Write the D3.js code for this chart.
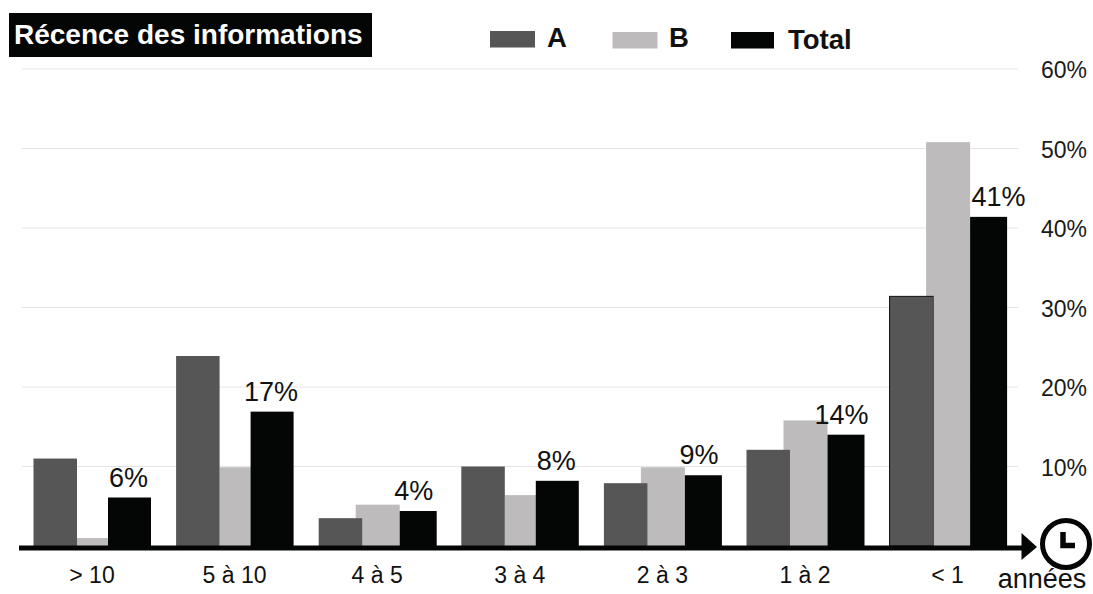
<!DOCTYPE html>
<html><head><meta charset="utf-8">
<script src="https://cdn.jsdelivr.net/npm/d3@7"></script>
<style>html,body{margin:0;background:#fff}svg{display:block}text{font-family:"Liberation Sans",Arial,sans-serif}</style>
</head><body><div id="c"></div>
<script>
const categories = ["> 10","5 à 10","4 à 5","3 à 4","2 à 3","1 à 2","< 1"];
const seriesA = [11,23.9,3.5,10,7.9,12.1,31.4];
const seriesB = [1,9.9,5.2,6.4,9.9,15.8,50.8];
const seriesTotal = [6.1,16.9,4.4,8.2,8.9,14,41.4];
const totalLabels = ["6%","17%","4%","8%","9%","14%","41%"];
const yTicks = [10,20,30,40,50,60];
const legendItems = ["A","B","Total"];
const colors = {A:"#565656",B:"#bdbbbc",Total:"#040605"};

const W=1093,H=594;
const svg=d3.select("#c").append("svg").attr("width",W).attr("height",H);
const y=d3.scaleLinear().domain([0,60]).range([546,69]);
const x=d3.scaleBand().domain(categories).range([33.5,1031.7]).paddingInner(0).paddingOuter(0).align(0);
// Two overlap patterns occur in the groups of the reference
const overlapAonB=[false,false,true,false,true,true,true];

svg.append("g").selectAll("line").data(yTicks).join("line")
 .attr("x1",22).attr("x2",1018).attr("y1",d=>y(d)).attr("y2",d=>y(d))
 .attr("stroke","#e4e4e4").attr("stroke-width",1);

svg.append("g").selectAll("text").data(yTicks).join("text")
 .attr("x",1087).attr("y",d=>y(d)+9).attr("text-anchor","end")
 .attr("font-size",23).attr("fill","#1a1a1a").text(d=>d+"%");

const g=svg.append("g").selectAll("g").data(categories).join("g")
 .attr("transform",c=>`translate(${x(c)},0)`);

function rect(sel,key,vals,xf,wf){
 sel.append("rect").attr("x",(c,i)=>xf(i)).attr("width",(c,i)=>wf(i))
  .attr("y",(c,i)=>y(vals[i])).attr("height",(c,i)=>y(0)-y(vals[i]))
  .attr("fill",colors[key]);
}
rect(g,"B",seriesB,i=>overlapAonB[i]?37:43.5,i=>overlapAonB[i]?44:37.5);
rect(g,"A",seriesA,()=>0,()=>43.5);
rect(g,"Total",seriesTotal,i=>overlapAonB[i]?81:74.5,i=>overlapAonB[i]?37:43);
g.filter((c,i)=>i===6).append("rect").attr("x",0.5).attr("width",43.5)
 .attr("y",y(seriesA[6])).attr("height",y(0)-y(seriesA[6]))
 .attr("fill","none").attr("stroke","#111").attr("stroke-width",1);

g.append("text").attr("x",(c,i)=>i===6?109.5:95)
 .attr("y",(c,i)=>y(seriesTotal[i])-11).attr("text-anchor","middle")
 .attr("font-size",27).attr("fill","#111").text((c,i)=>totalLabels[i]);

g.append("text").attr("x",58.5).attr("y",582.5).attr("text-anchor","middle")
 .attr("font-size",23).attr("fill","#111").text(c=>c);

// axis arrow
svg.append("line").attr("x1",19).attr("x2",1024).attr("y1",548).attr("y2",548)
 .attr("stroke","#040605").attr("stroke-width",5);
svg.append("path").attr("d","M1021.5,533L1037,547L1021.5,560Z").attr("fill","#040605");
// clock
svg.append("circle").attr("cx",1066).attr("cy",544).attr("r",23.5).attr("fill","#fff").attr("stroke","#040605").attr("stroke-width",5);
svg.append("path").attr("d","M1063,532V545.5H1075").attr("fill","none").attr("stroke","#040605").attr("stroke-width",5.5);
svg.append("text").attr("x",1042).attr("y",588).attr("text-anchor","middle").attr("font-size",27).attr("fill","#111").text("années");

// title
svg.append("rect").attr("x",9).attr("y",13).attr("width",363).attr("height",44).attr("fill","#040605");
svg.append("text").attr("x",14).attr("y",43.5).attr("font-size",28).attr("font-weight","bold").attr("fill","#fff").text("Récence des informations");

// legend
const lx=d3.scaleOrdinal().domain(legendItems).range([490,612.5,731]);
const ltx=d3.scaleOrdinal().domain(legendItems).range([547,669,788]);
const lw=d3.scaleOrdinal().domain(legendItems).range([45,45,43]);
const lry=d3.scaleOrdinal().domain(legendItems).range([31,32,32]);
const lty=d3.scaleOrdinal().domain(legendItems).range([47,47,49]);
const lg=svg.append("g").selectAll("g").data(legendItems).join("g");
lg.append("rect").attr("x",d=>lx(d)).attr("y",d=>lry(d)).attr("width",d=>lw(d)).attr("height",16.5).attr("fill",d=>colors[d]);
lg.append("text").attr("x",d=>ltx(d)).attr("y",d=>lty(d)).attr("font-size",27.5).attr("font-weight","bold").attr("fill","#111").text(d=>d);
</script></body></html>
